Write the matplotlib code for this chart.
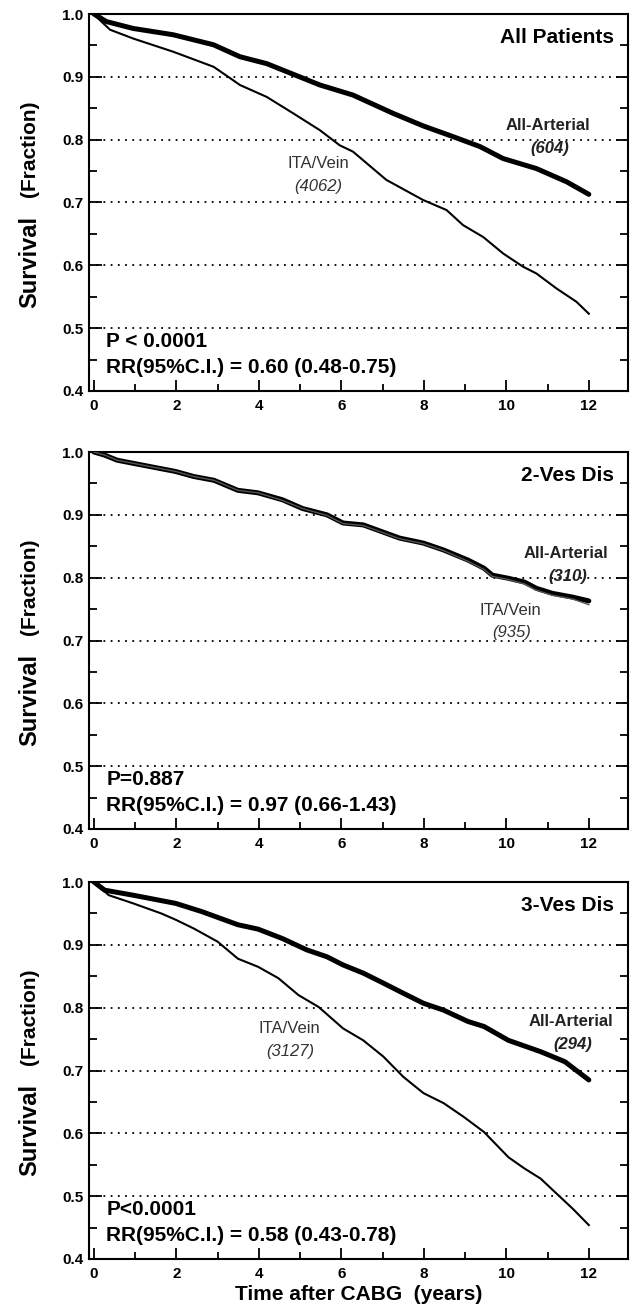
import numpy as np
import matplotlib
matplotlib.use('Agg')
import matplotlib.pyplot as plt
from matplotlib.ticker import MultipleLocator

plt.rcParams['font.family'] = ['Liberation Sans', 'DejaVu Sans']

# All Patients
t_art_all = [0, 0.3, 0.95, 1.92, 2.9, 3.54, 4.19, 5.48, 6.28, 7.25, 7.98, 8.7, 9.36, 9.92, 10.73, 11.46, 12.0]
s_art_all = [1.0, 0.988, 0.977, 0.967, 0.951, 0.932, 0.921, 0.887, 0.871, 0.842, 0.822, 0.805, 0.789, 0.770, 0.754, 0.733, 0.713]
t_ven_all = [0, 0.1, 0.39, 0.95, 1.92, 2.9, 3.30, 3.54, 4.19, 4.83, 5.48, 5.96, 6.28, 7.09, 7.98, 8.55, 8.95, 9.44, 9.92, 10.4, 10.73, 11.22, 11.7, 12.0]
s_ven_all = [1.0, 0.993, 0.975, 0.961, 0.940, 0.916, 0.898, 0.887, 0.868, 0.842, 0.815, 0.791, 0.781, 0.736, 0.704, 0.688, 0.664, 0.645, 0.619, 0.598, 0.587, 0.563, 0.542, 0.523]

# 2-vessel disease
t_2v = [0, 0.26, 0.56, 0.95, 1.98, 2.42, 2.91, 3.49, 3.98, 4.57, 5.06, 5.65, 6.04, 6.53, 7.41, 7.99, 8.48, 9.07, 9.46, 9.66, 10.05, 10.44, 10.73, 11.12, 11.61, 12.0]
s_art_2v = [1.0, 0.995, 0.987, 0.982, 0.969, 0.961, 0.955, 0.939, 0.935, 0.924, 0.910, 0.900, 0.887, 0.884, 0.863, 0.855, 0.844, 0.828, 0.815, 0.804, 0.799, 0.793, 0.783, 0.775, 0.769, 0.763]
s_ven_2v = [1.0, 0.995, 0.987, 0.982, 0.969, 0.961, 0.955, 0.939, 0.935, 0.923, 0.910, 0.899, 0.886, 0.883, 0.862, 0.854, 0.843, 0.826, 0.813, 0.802, 0.797, 0.790, 0.780, 0.772, 0.766, 0.757]

# 3-vessel disease
t_art_3v = [0, 0.26, 0.95, 1.98, 2.61, 3.49, 3.98, 4.57, 5.16, 5.65, 6.04, 6.53, 7.02, 7.5, 7.99, 8.48, 9.07, 9.46, 10.05, 10.44, 10.83, 11.42, 12.0]
s_art_3v = [1.0, 0.987, 0.979, 0.966, 0.953, 0.932, 0.925, 0.910, 0.892, 0.881, 0.868, 0.855, 0.839, 0.823, 0.807, 0.796, 0.778, 0.770, 0.748, 0.739, 0.730, 0.714, 0.685]
t_ven_3v = [0, 0.36, 0.95, 1.63, 1.98, 2.42, 3.0, 3.49, 3.98, 4.47, 4.96, 5.45, 6.04, 6.53, 7.02, 7.5, 7.99, 8.48, 8.97, 9.46, 10.05, 10.44, 10.83, 11.22, 11.61, 12.0]
s_ven_3v = [1.0, 0.979, 0.966, 0.950, 0.940, 0.926, 0.905, 0.878, 0.865, 0.847, 0.820, 0.801, 0.767, 0.748, 0.722, 0.690, 0.664, 0.648, 0.626, 0.602, 0.562, 0.544, 0.528, 0.504, 0.480, 0.454]

titles = ['All Patients', '2-Ves Dis', '3-Ves Dis']
n_art = ['(604)', '(310)', '(294)']
n_ven = ['(4062)', '(935)', '(3127)']
p_texts = ['P < 0.0001', 'P=0.887', 'P<0.0001']
rr_texts = ['RR(95%C.I.) = 0.60 (0.48-0.75)', 'RR(95%C.I.) = 0.97 (0.66-1.43)', 'RR(95%C.I.) = 0.58 (0.43-0.78)']

panels = [
    (t_art_all, s_art_all, t_ven_all, s_ven_all),
    (t_2v, s_art_2v, t_2v, s_ven_2v),
    (t_art_3v, s_art_3v, t_ven_3v, s_ven_3v),
]
# label positions (x, y) for All-Arterial / ITA-Vein labels
art_pos = [(11.0, 0.822), (11.44, 0.838), (11.57, 0.778)]
ven_pos = [(5.43, 0.762), (10.1, 0.748), (4.75, 0.767)]

fig = plt.figure(figsize=(6.32, 13.11), dpi=100)
tops = [14, 452, 882]
left, right = 89 / 632, 628 / 632
h = 377 / 1311

for i in range(3):
    bottom = 1 - (tops[i] + 377) / 1311
    ax = fig.add_axes([left, bottom, right - left, h])
    ta, sa, tv, sv = panels[i]

    ax.plot(ta, sa, color='black', linewidth=3.6, solid_capstyle='round', zorder=3)
    if i == 1:
        ax.plot(tv, sv, color='#555555', linewidth=1.0, zorder=4)
    else:
        ax.plot(tv, sv, color='black', linewidth=1.5, zorder=3)

    ax.set_xlim(-0.12, 12.95)
    ax.set_ylim(0.4, 1.0)
    ax.xaxis.set_major_locator(MultipleLocator(2))
    ax.xaxis.set_minor_locator(MultipleLocator(1))
    ax.yaxis.set_major_locator(MultipleLocator(0.1))
    ax.yaxis.set_minor_locator(MultipleLocator(0.05))
    ax.yaxis.set_major_formatter(matplotlib.ticker.FormatStrFormatter('%.1f'))
    ax.grid(axis='y', which='major', linestyle=(0, (1, 3)), color='black', linewidth=1.3)
    ax.tick_params(axis='both', which='both', direction='in', width=1.3)
    ax.tick_params(axis='y', which='major', length=9, right=True, pad=4)
    ax.tick_params(axis='y', which='minor', length=6, right=True)
    ax.tick_params(axis='x', which='major', length=8, pad=6)
    ax.tick_params(axis='x', which='minor', length=5)
    for lab in ax.get_xticklabels() + ax.get_yticklabels():
        lab.set_fontweight('bold')
        lab.set_fontsize(11)
    for sp in ax.spines.values():
        sp.set_linewidth(1.5)

    ax.text(12.6, 0.962, titles[i], ha='right', va='center', fontsize=15, fontweight='bold')
    ax.text(art_pos[i][0], art_pos[i][1], 'All-Arterial', ha='center', va='center',
            fontsize=12, fontweight='bold', color='#222222')
    ax.text(art_pos[i][0] + 0.05, art_pos[i][1] - 0.036, n_art[i], ha='center', va='center',
            fontsize=12, fontweight='bold', fontstyle='italic', color='#222222')
    ax.text(ven_pos[i][0], ven_pos[i][1], 'ITA/Vein', ha='center', va='center',
            fontsize=12, color='#333333')
    ax.text(ven_pos[i][0] + 0.02, ven_pos[i][1] - 0.036, n_ven[i], ha='center', va='center',
            fontsize=12, fontstyle='italic', color='#333333')
    ax.text(0.3, 0.479, p_texts[i], ha='left', va='center', fontsize=15, fontweight='bold')
    ax.text(0.3, 0.438, rr_texts[i], ha='left', va='center', fontsize=15, fontweight='bold')

    ax.text(-0.11, 0.341, 'Survival', transform=ax.transAxes, rotation=90,
            ha='center', va='center', fontsize=17, fontweight='bold')
    ax.text(-0.11, 0.643, '(Fraction)', transform=ax.transAxes, rotation=90,
            ha='center', va='center', fontsize=15, fontweight='bold')

    if i == 2:
        ax.set_xlabel('Time after CABG  (years)', fontsize=15, fontweight='bold', labelpad=3)

plt.savefig('out.png', dpi=100)
